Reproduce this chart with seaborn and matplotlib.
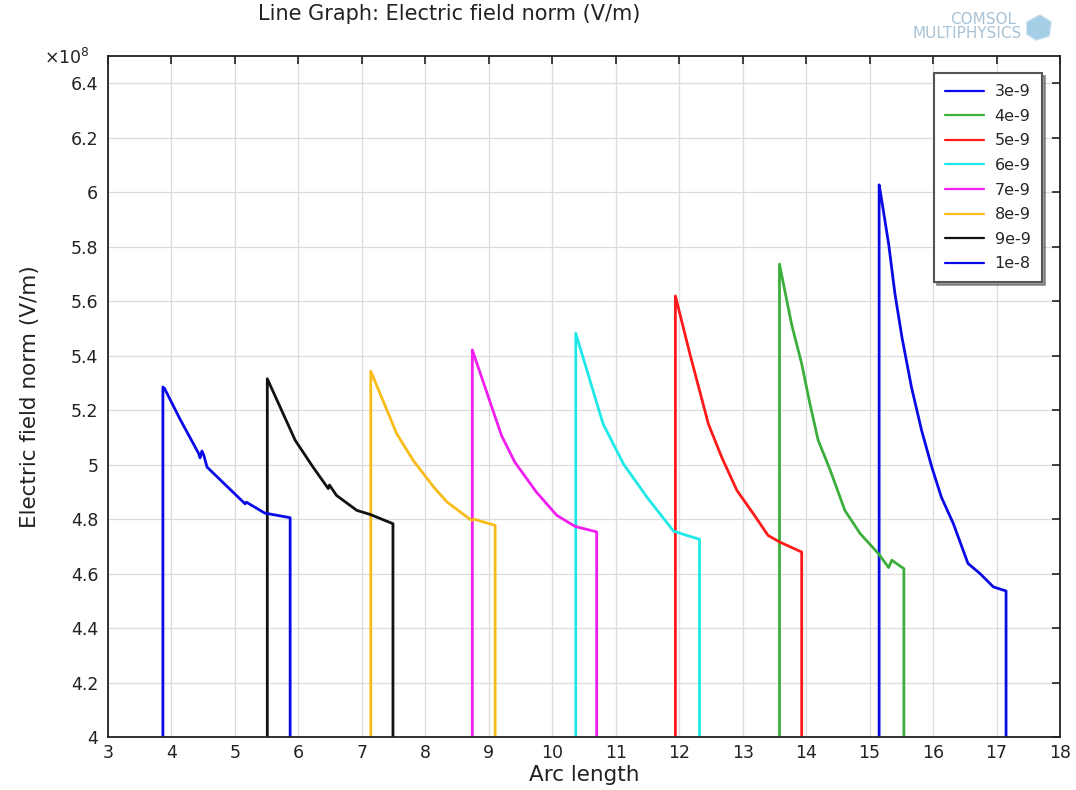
import matplotlib
matplotlib.use("Agg")
import matplotlib.pyplot as plt
import seaborn as sns
import pandas as pd
from matplotlib.ticker import FuncFormatter
from matplotlib.patches import Polygon

# ---- data (y in units of 1e8 V/m) ----
labels = ["3e-9", "4e-9", "5e-9", "6e-9", "7e-9", "8e-9", "9e-9", "1e-8"]
colors = ["#0a0ae6", "#3cae3c", "#ff1a1a", "#1ee8e8", "#f01ef0", "#f8bc18", "#111111", "#0a0ae6"]

x_3e9 = [15.15, 15.15, 15.17, 15.30, 15.40, 15.51, 15.66, 15.82, 15.98, 16.13, 16.32, 16.55, 16.74, 16.95, 17.15, 17.15]
y_3e9 = [4.00, 6.027, 6.00, 5.81, 5.626, 5.467, 5.284, 5.125, 4.991, 4.881, 4.783, 4.637, 4.60, 4.551, 4.536, 4.00]

x_4e9 = [13.58, 13.58, 13.77, 13.93, 14.06, 14.19, 14.38, 14.61, 14.85, 15.14, 15.30, 15.35, 15.54, 15.54]
y_4e9 = [4.00, 5.736, 5.516, 5.370, 5.223, 5.089, 4.979, 4.832, 4.747, 4.673, 4.622, 4.649, 4.618, 4.00]

x_5e9 = [11.94, 11.94, 12.17, 12.46, 12.67, 12.91, 13.17, 13.40, 13.59, 13.93, 13.93]
y_5e9 = [4.00, 5.619, 5.405, 5.149, 5.027, 4.905, 4.819, 4.740, 4.715, 4.679, 4.00]

x_6e9 = [10.37, 10.37, 10.80, 11.12, 11.49, 11.91, 12.12, 12.32, 12.32]
y_6e9 = [4.00, 5.482, 5.150, 5.003, 4.881, 4.756, 4.740, 4.726, 4.00]

x_7e9 = [8.74, 8.74, 9.20, 9.41, 9.75, 10.07, 10.36, 10.70, 10.70]
y_7e9 = [4.00, 5.421, 5.107, 5.009, 4.899, 4.814, 4.773, 4.753, 4.00]

x_8e9 = [7.14, 7.14, 7.55, 7.81, 8.13, 8.34, 8.73, 8.76, 9.10, 9.10]
y_8e9 = [4.00, 5.343, 5.113, 5.015, 4.918, 4.863, 4.795, 4.800, 4.777, 4.00]

x_9e9 = [5.51, 5.51, 5.95, 6.23, 6.47, 6.49, 6.60, 6.92, 7.13, 7.49, 7.49]
y_9e9 = [4.00, 5.315, 5.089, 4.991, 4.912, 4.925, 4.887, 4.832, 4.817, 4.783, 4.00]

x_1e8 = [3.865, 3.865, 3.89, 4.13, 4.43, 4.45, 4.48, 4.51, 4.56, 5.16, 5.18, 5.47, 5.87, 5.87]
y_1e8 = [4.00, 5.285, 5.28, 5.169, 5.040, 5.025, 5.050, 5.034, 4.991, 4.856, 4.862, 4.822, 4.805, 4.00]

xs = [x_3e9, x_4e9, x_5e9, x_6e9, x_7e9, x_8e9, x_9e9, x_1e8]
ys = [y_3e9, y_4e9, y_5e9, y_6e9, y_7e9, y_8e9, y_9e9, y_1e8]

x_ticks = list(range(3, 19))
y_ticks = [4.0, 4.2, 4.4, 4.6, 4.8, 5.0, 5.2, 5.4, 5.6, 5.8, 6.0, 6.2, 6.4]

rows = []
for lab, xv, yv in zip(labels, xs, ys):
    for i, (a, b) in enumerate(zip(xv, yv)):
        rows.append({"Arc length": a, "E": b, "series": lab, "order": i})
df = pd.DataFrame(rows)

# ---- plot ----
sns.set_style("white")
plt.rcParams["font.family"] = ["DejaVu Sans"]

fig = plt.figure(figsize=(10.76, 7.90), dpi=100)
ax = fig.add_axes([108 / 1076, 53 / 790, 952 / 1076, 681 / 790])

sns.lineplot(data=df, x="Arc length", y="E", hue="series", hue_order=labels,
             palette=dict(zip(labels, colors)), units="series", estimator=None,
             sort=False, linewidth=2.0, ax=ax, legend=True)

ax.set_xlim(3, 18)
ax.set_ylim(4, 6.5)
ax.set_xticks(x_ticks)
ax.set_yticks(y_ticks)
ax.yaxis.set_major_formatter(FuncFormatter(lambda v, p: f"{v:g}"))
ax.xaxis.set_major_formatter(FuncFormatter(lambda v, p: f"{v:g}"))
ax.grid(True, color="#dcdcdc", linewidth=0.9)
ax.set_axisbelow(True)
for s in ax.spines.values():
    s.set_color("#222222")
    s.set_linewidth(1.3)
    s.set_visible(True)
ax.tick_params(direction="in", length=6, width=1.2, top=True, right=True,
               labelsize=12.5, colors="#222222", pad=7)
ax.tick_params(axis="x", pad=5)

ax.set_xlabel("Arc length", fontsize=15.5, color="#222222", labelpad=2)
ax.set_ylabel("Electric field norm (V/m)", fontsize=15.5, color="#222222", labelpad=22)

fig.text(258 / 1076, 1 - 14 / 790, "Line Graph: Electric field norm (V/m)",
         fontsize=15, color="#222222", ha="left", va="center")
fig.text(44 / 1076, 1 - 58 / 790, r"$\times10^{8}$", fontsize=12.5, color="#222222",
         ha="left", va="center")
fig.text(1016 / 1076, 1 - 20 / 790, "COMSOL", fontsize=11, color="#a8c2d6",
         ha="right", va="center")
fig.text(1022 / 1076, 1 - 33 / 790, "MULTIPHYSICS", fontsize=11, color="#a8c2d6",
         ha="right", va="center")
cube = Polygon([[1027 / 1076, 1 - 22 / 790], [1040 / 1076, 1 - 15 / 790],
                [1051 / 1076, 1 - 22 / 790], [1049 / 1076, 1 - 36 / 790],
                [1036 / 1076, 1 - 40 / 790], [1027 / 1076, 1 - 34 / 790]],
               closed=True, transform=fig.transFigure, facecolor="#8fc3e0",
               edgecolor="#b5d6ea", alpha=0.8)
fig.patches.append(cube)

handles, labs = ax.get_legend_handles_labels()
leg = ax.legend(handles, labs, loc="upper right",
                bbox_to_anchor=((1042 - 108) / 952, (737 - 73) / 681),
                borderaxespad=0.0,
                fontsize=11.5, frameon=True, fancybox=False, shadow=True,
                handlelength=2.4, labelspacing=0.6, borderpad=0.7,
                handletextpad=0.7, title=None)
leg.get_frame().set_edgecolor("#555555")
leg.get_frame().set_linewidth(1.5)
for h in leg.get_lines():
    h.set_linewidth(1.6)

fig.savefig("out.png", dpi=100)
